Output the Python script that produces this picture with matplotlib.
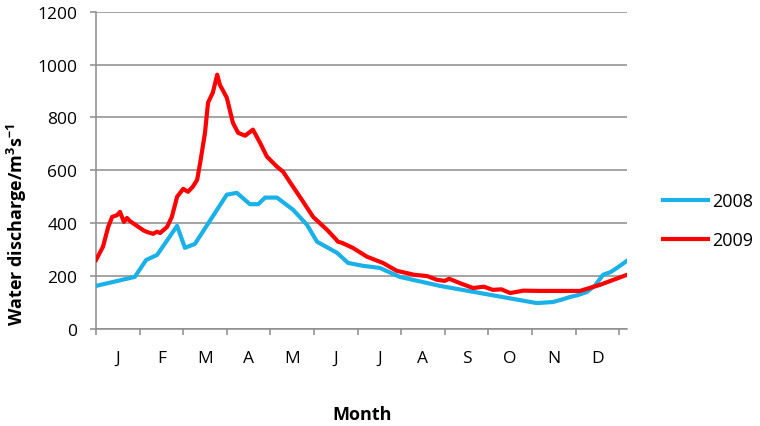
import matplotlib

matplotlib.use("Agg")
import matplotlib.pyplot as plt
import numpy as np

plt.rcParams["font.family"] = ["Open Sans", "DejaVu Sans"]
plt.rcParams["mathtext.fontset"] = "custom"
plt.rcParams["mathtext.rm"] = "Open Sans"
plt.rcParams["mathtext.bf"] = "Open Sans:bold"

# month position (0 = 1 Jan, 12 = 31 Dec) and discharge
months_2008 = [0.0, 0.89, 1.15, 1.40, 1.86, 2.04, 2.27, 3.00, 3.23, 3.53, 3.72,
               3.88, 4.15, 4.52, 4.84, 5.07, 5.53, 5.78, 6.12, 6.51, 6.97, 7.89,
               8.81, 9.56, 10.11, 10.48, 10.70, 10.87, 11.05, 11.26, 11.45, 11.63,
               11.80, 11.95, 12.18]
flow_2008 = [163, 197, 261, 280, 390, 307, 322, 508, 515, 472, 472,
             497, 497, 451, 394, 330, 288, 250, 239, 231, 197, 163,
             136, 114, 98, 102, 112, 121, 128, 140, 165, 205,
             215, 231, 258]

months_2009 = [0.0, 0.16, 0.28, 0.37, 0.48, 0.55, 0.64, 0.71, 0.78, 0.85, 1.01,
               1.10, 1.17, 1.31, 1.40, 1.47, 1.63, 1.74, 1.86, 2.00, 2.11, 2.22,
               2.32, 2.39, 2.50, 2.57, 2.68, 2.78, 2.84, 3.00, 3.14, 3.26, 3.42,
               3.60, 3.76, 3.92, 4.15, 4.29, 4.52, 4.72, 4.98, 5.30, 5.50, 5.55,
               5.64, 5.89, 6.22, 6.58, 6.90, 7.30, 7.60, 7.82, 8.00, 8.10, 8.40,
               8.65, 8.90, 9.10, 9.30, 9.50, 9.80, 10.18, 10.60, 11.10, 11.56, 12.18]
flow_2009 = [261, 311, 386, 424, 430, 443, 405, 420, 408, 400, 382,
             372, 367, 360, 368, 363, 386, 424, 500, 530, 519, 538,
             564, 629, 742, 856, 894, 962, 924, 875, 780, 742, 731,
             754, 705, 652, 614, 595, 538, 489, 424, 375, 340, 330,
             326, 307, 273, 250, 220, 205, 200, 186, 182, 190, 170,
             155, 160, 148, 150, 136, 145, 144, 144, 144, 167, 205]

month_labels = ["J", "F", "M", "A", "M", "J", "J", "A", "S", "O", "N", "D"]

fig = plt.figure(figsize=(7.6, 4.27), dpi=100)
ax = fig.add_axes([96 / 760, 1 - 330 / 427, (627 - 96) / 760, (330 - 12.7) / 427])

ax.plot(months_2008, flow_2008, color="#1ab0e8", lw=3.0, label="2008",
        solid_joinstyle="round", zorder=3)
ax.plot(months_2009, flow_2009, color="#ff0000", lw=3.0, label="2009",
        solid_joinstyle="round", zorder=4)

grid_c = "#8c8c8c"
ax.set_xlim(0, 12.18)
ax.set_ylim(0, 1200)
ax.set_yticks(range(0, 1201, 200))
ax.yaxis.grid(True, color=grid_c, lw=1.1)
ax.set_axisbelow(True)

ax.set_xticks(np.arange(0, 13))
ax.set_xticklabels([])
ax.set_xticks(np.arange(0.5, 12, 1), minor=True)
ax.set_xticklabels(month_labels, minor=True)
ax.tick_params(axis="x", which="major", length=4, color=grid_c, width=1.1)
ax.tick_params(axis="x", which="minor", length=0, pad=15, labelsize=12.5)
ax.tick_params(axis="y", length=4.5, color=grid_c, width=1.1, pad=9, labelsize=12.5)

for side in ("top", "right"):
    ax.spines[side].set_visible(False)
for side in ("left", "bottom"):
    ax.spines[side].set_color(grid_c)
    ax.spines[side].set_linewidth(1.1)

fig.text(362 / 760, 1 - 415 / 427, "Month", ha="center", va="center",
         fontsize=13, fontweight="bold")
fig.text(17 / 760, 1 - 225 / 427, r"Water discharge/m$^{\mathbf{3}}$s$^{\mathbf{-1}}$",
         rotation=90, ha="center", va="center", fontsize=13, fontweight="bold")

ax.legend(loc="center left", bbox_to_anchor=(663 / 760, 1 - 221.5 / 427),
          bbox_transform=fig.transFigure, frameon=False, borderpad=0,
          borderaxespad=0, handlelength=2.5, handletextpad=0.2,
          labelspacing=1.15, fontsize=13)

fig.savefig("out.png", dpi=100)
